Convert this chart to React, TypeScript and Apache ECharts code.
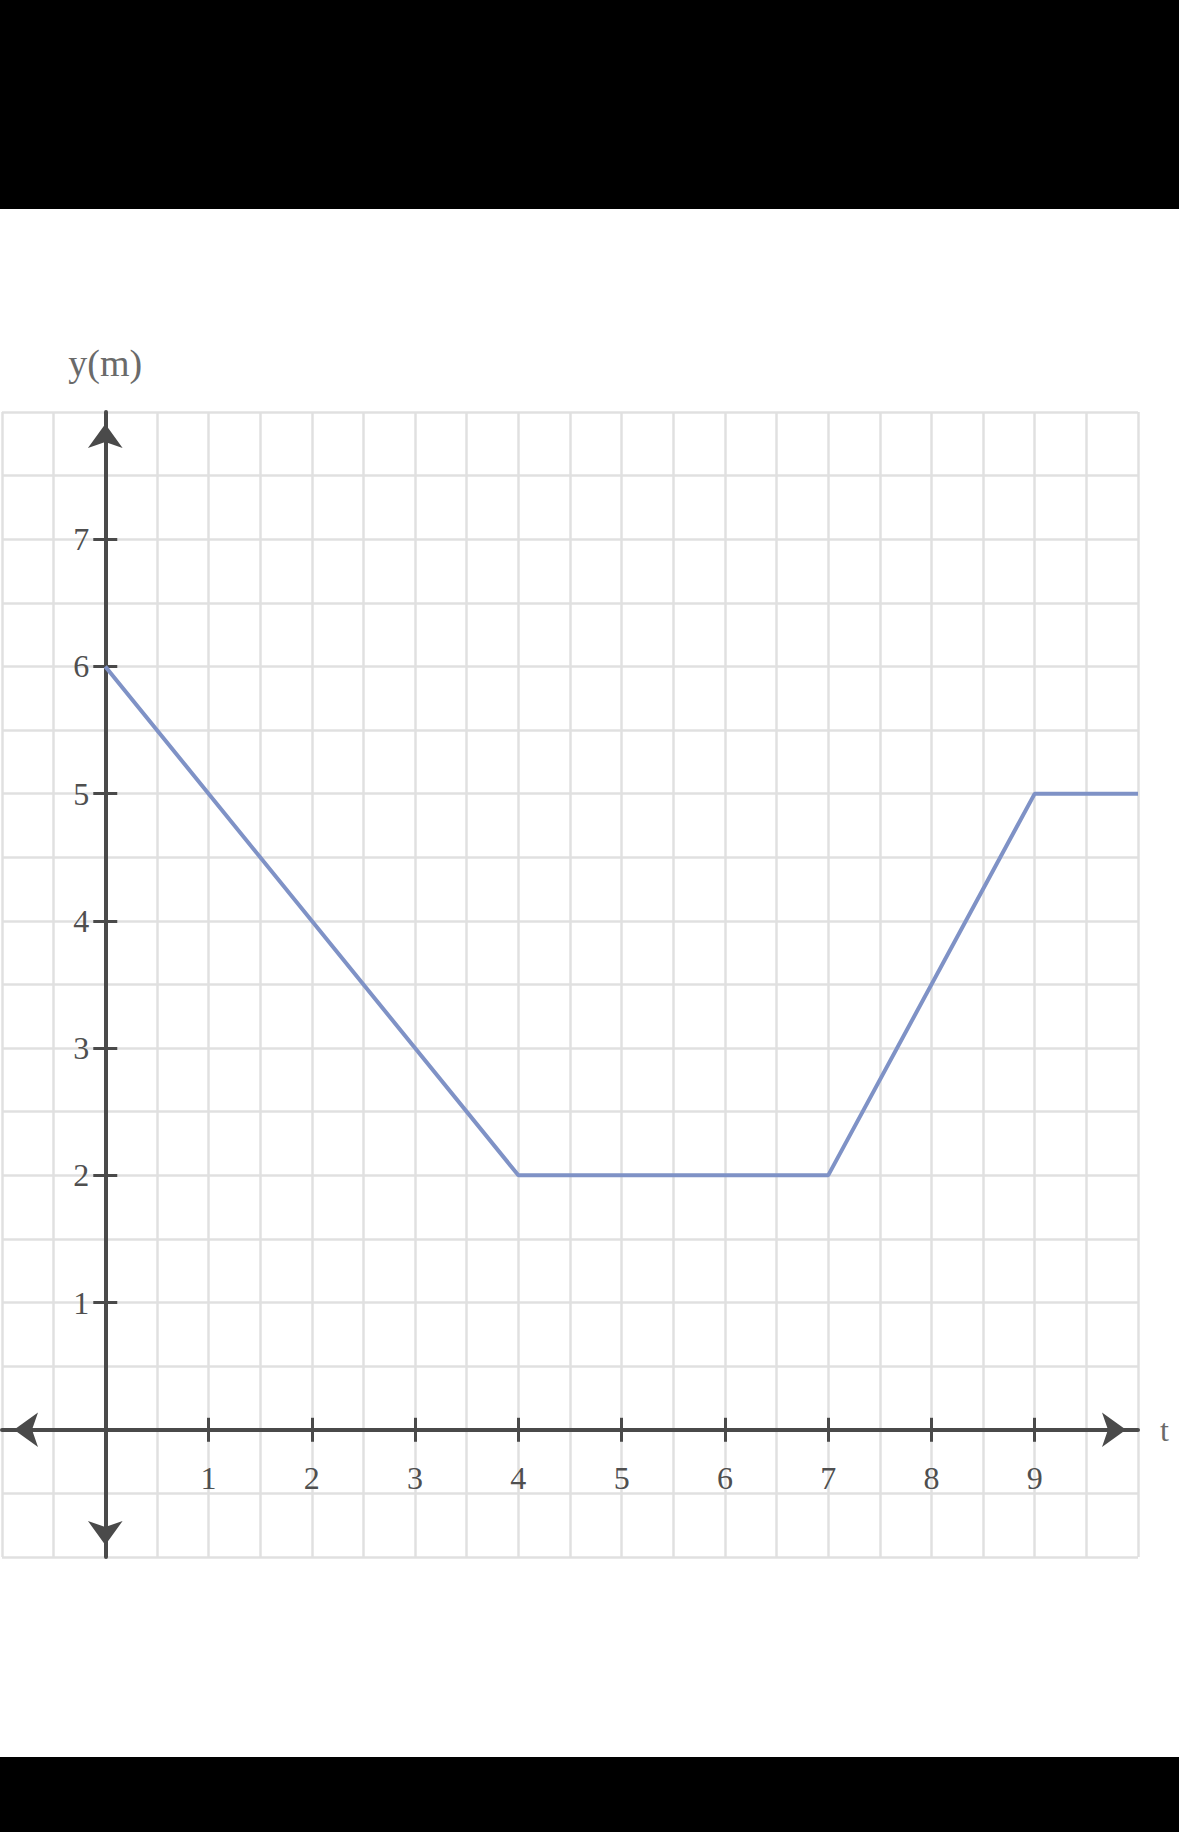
import React, { useEffect, useRef } from "react";
import * as echarts from "echarts";

// Position–time data
const tValues: number[] = [0, 4, 7, 9, 10];
const yValues: number[] = [6, 2, 2, 5, 5];

// Tick labels shown on each axis
const xTickLabels: string[] = ["1", "2", "3", "4", "5", "6", "7", "8", "9"];
const yTickLabels: string[] = ["1", "2", "3", "4", "5", "6", "7"];

const xAxisName = "t";
const yAxisName = "y(m)";

// Axis ranges
const X_MIN = -1;
const X_MAX = 10;
const Y_MIN = -1;
const Y_MAX = 8;

const W = 1179;
const H = 1832;

// Plot box layout (pixels)
const G_LEFT = 2;
const G_TOP = 412;
const G_W = 1136;
const G_H = 1145;

export default function App() {
  const ref = useRef<HTMLDivElement>(null);

  useEffect(() => {
    if (!ref.current) return;
    const chart = echarts.init(ref.current, null, { renderer: "svg" });

    const axisColor = "#4a4a4a";
    const gridColor = "#e0e0e0";
    const labelColor = "#4f4f4f";
    const font = "Liberation Serif";

    const xTickVals = xTickLabels.map(Number);
    const yTickVals = yTickLabels.map(Number);

    const unitX = G_W / (X_MAX - X_MIN);
    const unitY = G_H / (Y_MAX - Y_MIN);
    const zeroX = G_LEFT + (0 - X_MIN) * unitX;
    const zeroY = G_TOP + (Y_MAX - 0) * unitY;

    const gridLine = { show: true, lineStyle: { color: gridColor, width: 2.5 } };
    const noBounds = { containLabel: false, outerBoundsMode: "none" };
    const tickStyle = { color: axisColor, width: 3 };

    const hiddenAxis = (min: number, max: number) => ({
      type: "value",
      min,
      max,
      interval: 1,
      show: false,
      axisLine: { show: false, onZero: false },
      axisTick: { show: false },
      axisLabel: { show: false },
      splitLine: { show: false },
    });

    const tickOnly = (min: number, max: number, position: string, gridIndex: number, vals: number[]) => ({
      type: "value",
      gridIndex,
      min,
      max,
      interval: 1,
      position,
      axisLine: { show: false, onZero: false },
      axisTick: { show: true, length: 12, lineStyle: tickStyle, customValues: vals },
      axisLabel: { show: false },
      splitLine: { show: false },
    });

    const data = tValues.map((t, i) => [t, yValues[i]]);

    chart.setOption({
      animation: false,
      backgroundColor: "#ffffff",
      grid: [
        // 0: full plot box with the grid lines and the series
        { left: G_LEFT, top: G_TOP, width: G_W, height: G_H, ...noBounds },
        // 1: box whose bottom edge is y = 0 (x axis line, labels, name)
        { left: G_LEFT, top: G_TOP, width: G_W, height: zeroY - G_TOP, ...noBounds },
        // 2: box whose left edge is x = 0 (y axis line, labels, name)
        { left: zeroX, top: G_TOP, width: G_LEFT + G_W - zeroX, height: G_H, ...noBounds },
        // 3: box whose top edge is y = 0 (upper half of x ticks)
        { left: G_LEFT, top: zeroY, width: G_W, height: G_TOP + G_H - zeroY, ...noBounds },
        // 4: box whose right edge is x = 0 (right half of y ticks)
        { left: G_LEFT, top: G_TOP, width: zeroX - G_LEFT, height: G_H, ...noBounds },
      ],
      xAxis: [
        {
          type: "value",
          gridIndex: 0,
          min: X_MIN,
          max: X_MAX,
          interval: 1,
          axisLine: { show: false, onZero: false },
          axisTick: { show: false },
          axisLabel: { show: false },
          splitLine: gridLine,
          minorTick: { show: false, splitNumber: 2 },
          minorSplitLine: gridLine,
        },
        {
          type: "value",
          gridIndex: 1,
          min: X_MIN,
          max: X_MAX,
          interval: 1,
          position: "bottom",
          name: xAxisName,
          nameLocation: "end",
          nameGap: 22,
          nameTextStyle: { fontFamily: font, fontSize: 32, color: "#6a6a6a", align: "left", verticalAlign: "middle" },
          axisLine: {
            show: true,
            onZero: false,
            symbol: ["arrow", "arrow"],
            symbolSize: [26, 24],
            symbolOffset: [12, -12],
            lineStyle: { color: axisColor, width: 4 },
          },
          axisTick: { show: true, length: 12, lineStyle: tickStyle, customValues: xTickVals },
          axisLabel: {
            show: true,
            margin: 32,
            fontFamily: font,
            fontSize: 32,
            color: labelColor,
            formatter: (v: number) => (xTickLabels.includes(String(v)) ? String(v) : ""),
          },
          splitLine: { show: false },
        },
        { ...hiddenAxis(0, X_MAX), gridIndex: 2 },
        tickOnly(X_MIN, X_MAX, "top", 3, xTickVals),
        { ...hiddenAxis(X_MIN, 0), gridIndex: 4 },
      ],
      yAxis: [
        {
          type: "value",
          gridIndex: 0,
          min: Y_MIN,
          max: Y_MAX,
          interval: 1,
          axisLine: { show: false, onZero: false },
          axisTick: { show: false },
          axisLabel: { show: false },
          splitLine: gridLine,
          minorTick: { show: false, splitNumber: 2 },
          minorSplitLine: gridLine,
        },
        { ...hiddenAxis(0, Y_MAX), gridIndex: 1 },
        {
          type: "value",
          gridIndex: 2,
          min: Y_MIN,
          max: Y_MAX,
          interval: 1,
          position: "left",
          name: yAxisName,
          nameLocation: "end",
          nameGap: 30,
          nameTextStyle: { fontFamily: font, fontSize: 38, color: "#6a6a6a", align: "center" },
          axisLine: {
            show: true,
            onZero: false,
            symbol: ["arrow", "arrow"],
            symbolSize: [26, 24],
            symbolOffset: [12, -12],
            lineStyle: { color: axisColor, width: 4 },
          },
          axisTick: { show: true, length: 12, lineStyle: tickStyle, customValues: yTickVals },
          axisLabel: {
            show: true,
            margin: 16,
            fontFamily: font,
            fontSize: 32,
            color: labelColor,
            formatter: (v: number) => (yTickLabels.includes(String(v)) ? String(v) : ""),
          },
          splitLine: { show: false },
        },
        { ...hiddenAxis(Y_MIN, 0), gridIndex: 3 },
        tickOnly(Y_MIN, Y_MAX, "right", 4, yTickVals),
      ],
      series: [
        {
          type: "line",
          xAxisIndex: 0,
          yAxisIndex: 0,
          data,
          showSymbol: false,
          symbol: "none",
          lineStyle: { color: "#7f92c6", width: 4 },
          z: 5,
        },
      ],
      graphic: [
        { type: "rect", left: 0, top: 0, shape: { width: W, height: 209 }, style: { fill: "#000" }, z: 100 },
        { type: "rect", left: 0, top: 1757, shape: { width: W, height: H - 1757 }, style: { fill: "#000" }, z: 100 },
      ],
    });

    return () => chart.dispose();
  }, []);

  return (
    <div style={{ position: "absolute", left: 0, top: 0, width: W, height: H, background: "#fff" }}>
      <div ref={ref} style={{ width: W, height: H }} />
    </div>
  );
}
